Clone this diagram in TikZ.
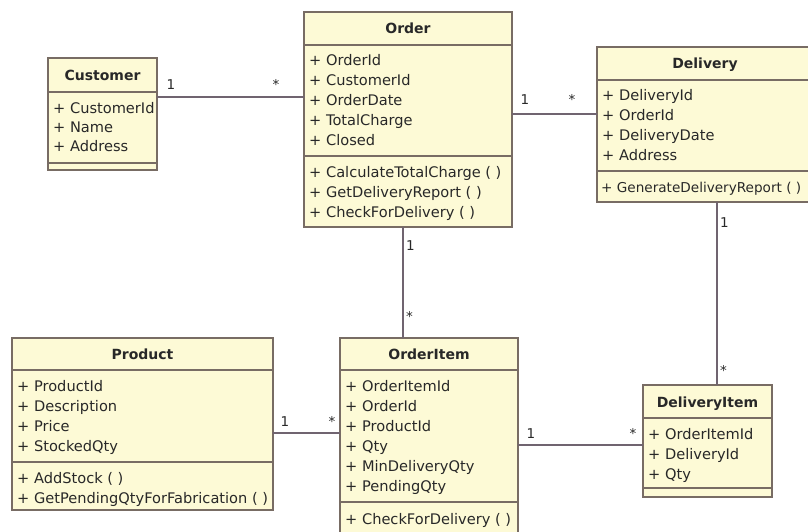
\documentclass[tikz,border=0pt]{standalone}
\usepackage{fontspec}
\setmainfont{DejaVu Sans}
\definecolor{boxfill}{RGB}{253,250,214}
\definecolor{boxline}{RGB}{120,108,100}
\definecolor{connline}{RGB}{112,100,112}
\definecolor{txt}{RGB}{40,40,40}
\tikzset{
  classbox/.style={draw=boxline, line width=1.6pt, fill=boxfill, anchor=north west, inner sep=0pt, outer sep=0pt},
  sepline/.style={draw=boxline, line width=1.4pt},
  conn/.style={draw=connline, line width=1.2pt},
  ctitle/.style={font=\fontsize{14}{16}\selectfont\bfseries, text=txt, anchor=base, inner sep=0pt},
  attr/.style={font=\fontsize{14.6}{18}\selectfont, text=txt, anchor=base west, inner sep=0pt},
  mult/.style={font=\fontsize{13.5}{16}\selectfont, text=txt, anchor=base, inner sep=0pt},
  multv/.style={font=\fontsize{13.5}{16}\selectfont, text=txt, anchor=base west, inner sep=0pt}
}
\newcommand\hsepline[2]{\draw[sepline] (#1.west |- 0,#2) -- (#1.east |- 0,#2);}
\newcommand\attrlist[5]{%
  \foreach \t [count=\i from 0] in {#5} {\node[attr] (#1-\i) at (#2,{#3+#4*\i}) {\t};}}
\begin{document}
\begin{tikzpicture}[x=1pt,y=-1pt]
\useasboundingbox (0,0) rectangle (808,531);
\fill[white] (0,0) rectangle (808,531);
\clip (0,0) rectangle (808,531);

% Customer
\node[classbox, minimum width=109pt, minimum height=112pt] (customer) at (48,58) {};
\hsepline{customer}{92}
\hsepline{customer}{163}
\node[ctitle] (customer-t) at (102.5,80) {Customer};
\attrlist{customer-a}{53}{113}{19}{+ CustomerId,+ Name,+ Address}

% Order
\node[classbox, minimum width=208pt, minimum height=215pt] (order) at (304,12) {};
\hsepline{order}{45}
\hsepline{order}{156}
\node[ctitle] (order-t) at (408,33) {Order};
\attrlist{order-a}{309}{65}{20}{+ OrderId,+ CustomerId,+ OrderDate,+ TotalCharge,+ Closed}
\attrlist{order-o}{309}{177}{20}{+ CalculateTotalCharge ( ),+ GetDeliveryReport ( ),+ CheckForDelivery ( )}

% Delivery
\node[classbox, minimum width=216pt, minimum height=155pt] (delivery) at (597,47) {};
\hsepline{delivery}{80}
\hsepline{delivery}{171}
\node[ctitle] (delivery-t) at (705,68) {Delivery};
\attrlist{delivery-a}{602}{100}{20}{+ DeliveryId,+ OrderId,+ DeliveryDate,+ Address}
\node[attr, font=\fontsize{13.6}{18}\selectfont] (delivery-o-0) at (601,192) {+ GenerateDeliveryReport ( )};

% Product
\node[classbox, minimum width=261pt, minimum height=172pt] (product) at (12,338) {};
\hsepline{product}{370}
\hsepline{product}{462}
\node[ctitle] (product-t) at (142.5,359) {Product};
\attrlist{product-a}{17}{391}{20}{+ ProductId,+ Description,+ Price,+ StockedQty}
\attrlist{product-o}{17}{483}{20}{+ AddStock ( ),+ GetPendingQtyForFabrication ( )}

% OrderItem
\node[classbox, minimum width=178pt, minimum height=205pt] (orderitem) at (340,338) {};
\hsepline{orderitem}{370}
\hsepline{orderitem}{502}
\node[ctitle] (orderitem-t) at (429,359) {OrderItem};
\attrlist{orderitem-a}{345}{391}{20}{+ OrderItemId,+ OrderId,+ ProductId,+ Qty,+ MinDeliveryQty,+ PendingQty}
\attrlist{orderitem-o}{345}{524}{20}{+ CheckForDelivery ( )}

% DeliveryItem
\node[classbox, minimum width=129pt, minimum height=112pt] (deliveryitem) at (643,385) {};
\hsepline{deliveryitem}{418}
\hsepline{deliveryitem}{488}
\node[ctitle] (deliveryitem-t) at (707.5,407) {DeliveryItem};
\attrlist{deliveryitem-a}{648}{439}{20}{+ OrderItemId,+ DeliveryId,+ Qty}

% Connectors
\draw[conn] (customer.east |- 0,97) -- (order.west |- 0,97);
\node[mult] (m1) at (171,89) {1};
\node[mult] (m2) at (276,89) {*};

\draw[conn] (order.east |- 0,114) -- (delivery.west |- 0,114);
\node[mult] (m3) at (525,104) {1};
\node[mult] (m4) at (572,104) {*};

\draw[conn] (order.south -| 403,0) -- (orderitem.north -| 403,0);
\node[multv] (m5) at (406,250) {1};
\node[multv] (m6) at (406,321) {*};

\draw[conn] (delivery.south -| 717,0) -- (deliveryitem.north -| 717,0);
\node[multv] (m7) at (720,227) {1};
\node[multv] (m8) at (720,375) {*};

\draw[conn] (product.east |- 0,433) -- (orderitem.west |- 0,433);
\node[mult] (m9) at (285,426) {1};
\node[mult] (m10) at (332,426) {*};

\draw[conn] (orderitem.east |- 0,445) -- (deliveryitem.west |- 0,445);
\node[mult] (m11) at (531,438) {1};
\node[mult] (m12) at (633,438) {*};
\end{tikzpicture}
\end{document}
